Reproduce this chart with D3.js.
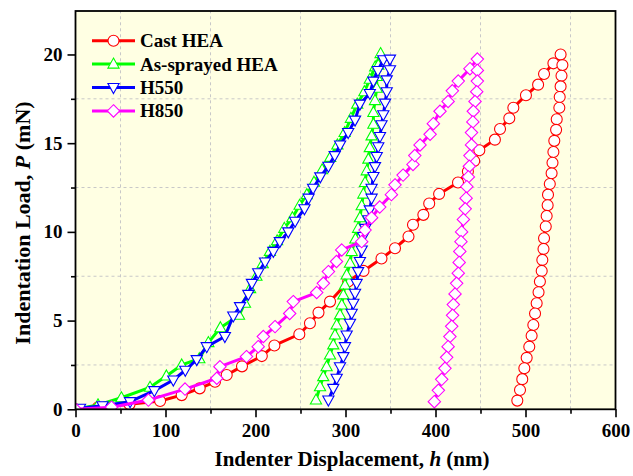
<!DOCTYPE html>
<html>
<head>
<meta charset="utf-8">
<script src="https://cdn.jsdelivr.net/npm/d3@7/dist/d3.min.js"></script>
<style>
body { margin: 0; background: #fff; }
text { font-family: "Liberation Serif", "Times New Roman", serif; font-weight: bold; }
</style>
</head>
<body>
<script>
// Curvas carga-descarga (h em nm, P em mN)
var castHEA = [
	[0,0],[25,0.11],[60,0.28],[94,0.47],[118,0.8],[138,1.18],[155,1.55],[168,1.93],[185,2.42],[207,3.0],
	[221,3.6],[248.7,4.23],[260.5,4.85],[270,5.45],[282.8,6.07],[303,7.2],[320,7.8],[340,8.5],[355,9.08],
	[370,9.74],[375,10.4],[386.5,10.96],[393,11.6],[404,12.14],[425,12.78],[436,13.4],[443,14.0],[448.7,14.6],
	[466,15.2],[471.7,15.8],[482,16.4],[486.5,17.0],[500.5,17.7],[514,18.3],[520.6,18.9],[531,19.5],[539,20.0],
	[541,19.4],[540,18.8],[539,18.2],[538,17.6],[537.6,17.0],[534.7,16.35],[534,15.75],[532,15.13],[531,14.5],
	[530,13.9],[529,13.3],[527,12.7],[525,12.1],[524.6,11.5],[523.5,10.9],[522.5,10.3],[520.6,9.64],[520,9.04],
	[518.7,8.42],[518,7.8],[516,7.2],[514.5,6.6],[512.4,5.98],[510.6,5.4],[508.7,4.75],[506.8,4.15],[504.2,3.53],
	[501.3,2.9],[498.7,2.31],[496.4,1.7],[493.9,1.09],[490.9,0.49]
];
var asSprayed = [
	[0,0],[25,0.25],[51,0.65],[82.8,1.24],[101,1.88],[118,2.5],[137.6,2.85],[147.6,3.76],[161,4.6],[181.7,5.3],
	[188.3,5.98],[194,6.8],[201,7.5],[208,8.2],[216,8.9],[224,9.5],[232,10.2],[241,10.8],[249,11.5],[257,12.1],
	[265,12.8],[274,13.5],[283,14.2],[291,14.9],[299,15.6],[306,16.4],[313,17.2],[321,17.9],[327,18.6],[333,19.3],
	[339,20.05],
	[336.4,19.4],[334.7,18.76],[334.7,18.1],[332.8,17.4],[331,16.73],[331,16.07],[329,15.41],[327,14.75],
	[325.4,14.1],[323.6,13.44],[321.7,12.78],[319.8,12.13],[318,11.47],[316,10.8],[314,10.2],[311,9.6],
	[306.9,8.89],[305,8.23],[301.3,7.57],[299.4,7.0],[297.6,6.45],[295.8,5.88],[293.9,5.32],[290.2,4.75],
	[288.3,4.19],[286.4,3.63],[282.8,3.06],[279,2.4],[275.3,1.84],[271.7,1.27],[267.2,0.52]
];
var h550 = [
	[0,0],[5,0.06],[30,0.2],[60.6,0.43],[87.6,1.05],[108.7,1.65],[122,2.2],[134.7,2.8],[145.8,3.53],[166,4.1],
	[175.3,5.26],[182.8,5.79],[192,6.48],[196,7.1],[203,7.7],[210.6,8.3],[219.8,8.9],[227,9.45],[236.4,10.0],
	[244,10.6],[254.4,11.3],[259,11.9],[264,12.46],[272,13.1],[281,13.7],[288,14.3],[294,14.9],[303,15.6],
	[310.6,16.3],[316,17.2],[327,17.8],[331,18.5],[336,19.1],[342,19.7],[349.4,19.74],
	[349.4,19.14],[345.8,18.57],[345.8,17.9],[344,17.26],[342,16.6],[340,16.04],[338.3,15.38],[336.4,14.8],
	[334.7,14.25],[332.8,13.68],[331,13.12],[329,12.46],[329,11.9],[327,11.24],[325.4,10.68],[322,10.2],
	[319.8,9.74],[318,8.98],[316,8.33],[314,7.76],[312.4,7.1],[310.6,6.54],[308.7,5.98],[306.9,5.41],
	[305,4.85],[301.3,4.19],[299.4,3.53],[297.6,2.97],[293.9,2.4],[290.2,1.75],[286.4,1.18],[281,0.52]
];
var h850 = [
	[0,0],[40,0.12],[81,0.52],[121.7,1.14],[157,1.75],[160.5,2.4],[190,2.97],[203,3.53],[208.7,4.1],[221.7,4.66],
	[238,5.4],[242,6.07],[268,6.58],[275.4,7.1],[281,7.76],[290,8.33],[295.8,8.98],[318,9.45],[321.7,10.1],
	[329,10.8],[338,11.4],[351,12.1],[355,12.65],[364,13.2],[375,13.8],[377,14.3],[382.8,14.9],[394,15.5],
	[397.6,16.1],[405,16.8],[414,17.35],[418.7,17.95],[425.3,18.5],[438.3,19.2],[446.5,19.74],
	[446.5,19.1],[446.5,18.5],[445.8,17.9],[443.9,17.35],[442,16.8],[441.5,16.2],[440,15.6],[440,14.9],
	[438.3,14.3],[437.6,13.7],[436.5,13.1],[434.8,12.55],[434,11.9],[433,11.3],[431,10.7],[429,10.0],
	[428.3,9.45],[427,8.9],[426.3,8.28],[425.3,7.67],[423.5,7.1],[421.7,6.5],[419.8,5.9],[419,5.3],
	[418,4.68],[416,4.1],[414,3.53],[412.4,2.93],[410.5,2.31],[406.9,1.69],[403.2,1.07],[398.7,0.43]
];
var nomesSeries = ["Cast HEA", "As-sprayed HEA", "H550", "H850"];
var cores = ["#ff0000", "#00ff00", "#0000ff", "#ff00ff"];
var simbolos = ["circle", "triUp", "triDown", "diamond"];
var xTicks = [0, 100, 200, 300, 400, 500, 600];
var xMinor = [50, 150, 250, 350, 450, 550];
var yTicks = [0, 5, 10, 15, 20];
var yMinor = [2.5, 7.5, 12.5, 17.5];

var series = [castHEA, asSprayed, h550, h850];

// SVG
var width = 633;
var height = 476;
var margin = {top: 11, right: 17.5, bottom: 66.7, left: 75.5};
var svgTag = d3.select("body").append("svg")
	.attr("width", width)
	.attr("height", height);

var x = d3.scaleLinear().domain([0, 600]).range([margin.left, width - margin.right]);
var y = d3.scaleLinear().domain([0, 22.45]).range([height - margin.bottom, margin.top]);

svgTag.append("defs").append("clipPath").attr("id", "area")
	.append("rect")
	.attr("x", x(0)).attr("y", y(22.45))
	.attr("width", x(600) - x(0)).attr("height", y(0) - y(22.45));

// fundo amarelo claro
svgTag.append("rect")
	.attr("x", x(0)).attr("y", y(22.45))
	.attr("width", x(600) - x(0)).attr("height", y(0) - y(22.45))
	.attr("fill", "#ffffe3");

// grade tracejada só nas posições secundárias
var grade = svgTag.append("g").attr("stroke", "#c8c8c8").attr("stroke-dasharray", "3,3").attr("stroke-width", 1);
grade.selectAll(".gx").data(xMinor).enter().append("line")
	.attr("x1", d => x(d)).attr("x2", d => x(d))
	.attr("y1", y(0)).attr("y2", y(22.45));
grade.selectAll(".gy").data(yMinor).enter().append("line")
	.attr("y1", d => y(d)).attr("y2", d => y(d))
	.attr("x1", x(0)).attr("x2", x(600));

function simbolo(tipo) {
	if (tipo == "circle") return "M5.5,0A5.5,5.5 0 1,1 -5.5,0A5.5,5.5 0 1,1 5.5,0Z";
	if (tipo == "triUp") return "M0,-6L5.6,4L-5.6,4Z";
	if (tipo == "triDown") return "M0,6L5.6,-4L-5.6,-4Z";
	return "M0,-6.2L6.2,0L0,6.2L-6.2,0Z";
}

var linha = d3.line().x(d => x(d[0])).y(d => y(d[1]));
var plot = svgTag.append("g").attr("clip-path", "url(#area)");

series.forEach(function(dados, i) {
	var g = plot.append("g");
	g.append("path")
		.attr("d", linha(dados))
		.attr("fill", "none")
		.attr("stroke", cores[i])
		.attr("stroke-width", 3)
		.attr("stroke-linejoin", "round");
	g.selectAll("path.m").data(dados).enter().append("path")
		.attr("class", "m")
		.attr("transform", d => "translate(" + x(d[0]) + "," + y(d[1]) + ")")
		.attr("d", simbolo(simbolos[i]))
		.attr("fill", "#fff")
		.attr("stroke", cores[i])
		.attr("stroke-width", 1.1);
});

// eixos
var eixoX = svgTag.append("g").attr("transform", "translate(0," + y(0) + ")")
	.call(d3.axisBottom(x).tickValues(xTicks).tickSize(8).tickPadding(6));
var eixoXm = svgTag.append("g").attr("transform", "translate(0," + y(0) + ")")
	.call(d3.axisBottom(x).tickValues(xMinor).tickSize(4.5).tickFormat(""));
var eixoY = svgTag.append("g").attr("transform", "translate(" + x(0) + ",0)")
	.call(d3.axisLeft(y).tickValues(yTicks).tickSize(8).tickPadding(5));
var eixoYm = svgTag.append("g").attr("transform", "translate(" + x(0) + ",0)")
	.call(d3.axisLeft(y).tickValues(yMinor).tickSize(4.5).tickFormat(""));
[eixoX, eixoXm, eixoY, eixoYm].forEach(function(e) {
	e.select(".domain").remove();
	e.selectAll("line").attr("stroke", "#000").attr("stroke-width", 1.6);
	e.selectAll("text").attr("font-size", 19).attr("fill", "#000")
		.attr("font-family", "'Liberation Serif', serif").attr("font-weight", "bold");
});

// moldura
svgTag.append("rect")
	.attr("x", x(0)).attr("y", y(22.45))
	.attr("width", x(600) - x(0)).attr("height", y(0) - y(22.45))
	.attr("fill", "none").attr("stroke", "#000").attr("stroke-width", 1.8);

// títulos dos eixos
var tx = svgTag.append("text")
	.attr("x", 352).attr("y", 466)
	.attr("text-anchor", "middle").attr("font-size", 21);
tx.append("tspan").text("Indenter Displacement, ");
tx.append("tspan").attr("font-style", "italic").text("h");
tx.append("tspan").text(" (nm)");

var ty = svgTag.append("text")
	.attr("transform", "translate(30,223) rotate(-90)")
	.attr("text-anchor", "middle").attr("font-size", 22);
ty.append("tspan").text("Indentation Load, ");
ty.append("tspan").attr("font-style", "italic").text("P");
ty.append("tspan").text(" (mN)");

// legenda
var legenda = svgTag.append("g");
nomesSeries.forEach(function(nome, i) {
	var ly = 40.7 + i * 23.4;
	legenda.append("line")
		.attr("x1", 92).attr("x2", 135).attr("y1", ly).attr("y2", ly)
		.attr("stroke", cores[i]).attr("stroke-width", 3);
	legenda.append("path")
		.attr("transform", "translate(113.5," + ly + ")")
		.attr("d", simbolo(simbolos[i]))
		.attr("fill", "#fff").attr("stroke", cores[i]).attr("stroke-width", 1.1);
	legenda.append("text")
		.attr("x", 140).attr("y", ly + 6.5)
		.attr("font-size", 19)
		.text(nome);
});
</script>
</body>
</html>
